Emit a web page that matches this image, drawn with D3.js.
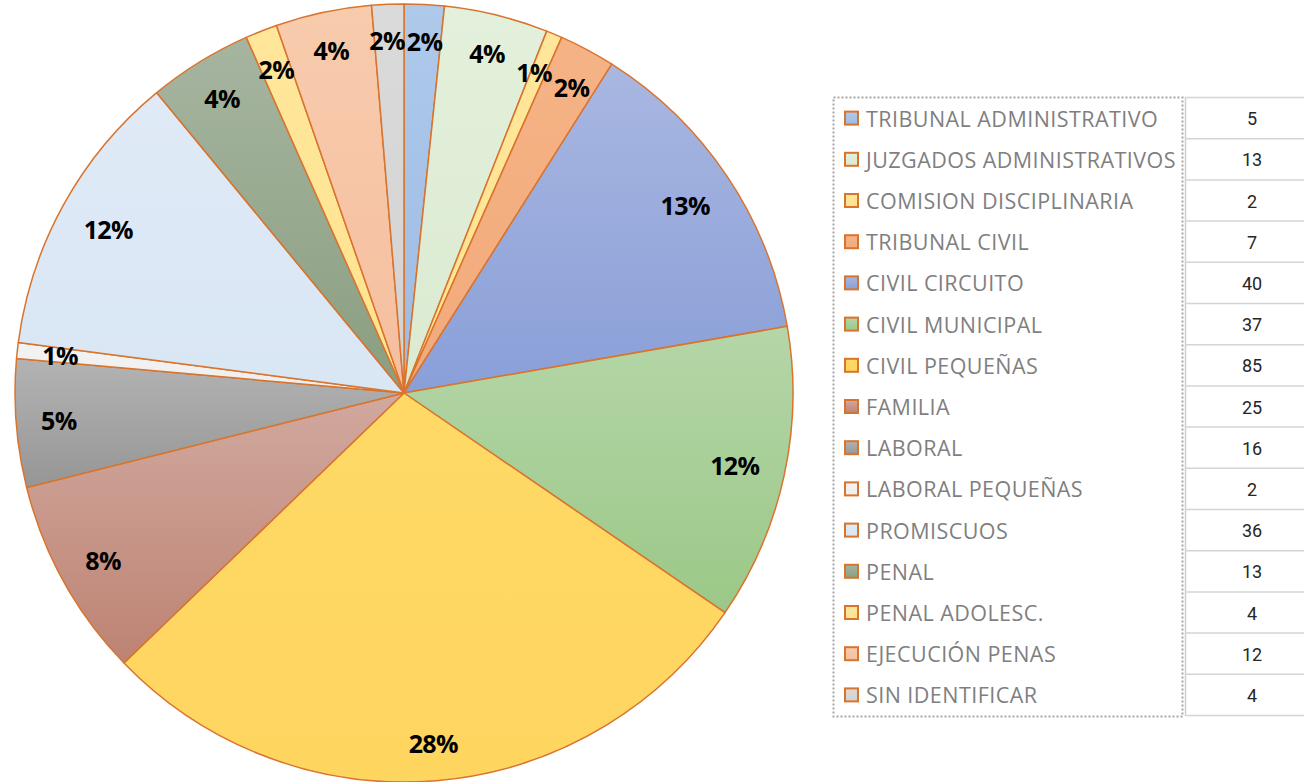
<!DOCTYPE html>
<html>
<head>
<meta charset="utf-8">
<script src="https://cdn.jsdelivr.net/npm/d3@7"></script>
<style>
  body { margin: 0; background: #fff; }
  svg { display: block; }
</style>
</head>
<body>
<div id="chart"></div>
<script>
// data
var categories = ["TRIBUNAL ADMINISTRATIVO", "JUZGADOS ADMINISTRATIVOS", "COMISION DISCIPLINARIA",
  "TRIBUNAL CIVIL", "CIVIL CIRCUITO", "CIVIL MUNICIPAL", "CIVIL PEQUEÑAS", "FAMILIA", "LABORAL",
  "LABORAL PEQUEÑAS", "PROMISCUOS", "PENAL", "PENAL ADOLESC.", "EJECUCIÓN PENAS", "SIN IDENTIFICAR"];
var values = [5, 13, 2, 7, 40, 37, 85, 25, 16, 2, 36, 13, 4, 12, 4];
var pctLabels = ["2%", "4%", "1%", "2%", "13%", "12%", "28%", "8%", "5%", "1%", "12%", "4%", "2%", "4%", "2%"];

// fill colours (top, bottom of each slice gradient)
var topColors = ["#aec9ea", "#e3f0db", "#ffe69b", "#f5b385", "#a9b7e1", "#b5d6a8", "#ffd966", "#d1a99f",
  "#b3b3b3", "#f3f3f3", "#dfeaf6", "#a6b5a0", "#ffe69b", "#f8cbad", "#dadada"];
var bottomColors = ["#9dbbe4", "#dbead1", "#fee38f", "#f2aa7b", "#899fd8", "#9bc887", "#fed55f", "#bd8373",
  "#969696", "#eeeeee", "#d9e6f4", "#8a9e80", "#fee38f", "#f5bf9f", "#d3d3d3"];

var svgWidth = 1304;
var svgHeight = 782;
var cx = 404, cy = 393, radius = 389;

var svg = d3.select("#chart")
  .append("svg")
  .attr("width", svgWidth)
  .attr("height", svgHeight);

var defs = svg.append("defs");
categories.forEach(function(c, i) {
  var g = defs.append("linearGradient")
    .attr("id", "grad" + i)
    .attr("x1", 0).attr("y1", 0).attr("x2", 0).attr("y2", 1);
  g.append("stop").attr("offset", "0%").attr("stop-color", topColors[i]);
  g.append("stop").attr("offset", "100%").attr("stop-color", bottomColors[i]);
});

var data = categories.map(function(c, i) {
  return { name: c, value: values[i], label: pctLabels[i], i: i };
});

var pie = d3.pie().value(d => d.value).sort(null);
var arc = d3.arc().innerRadius(0).outerRadius(radius);
var arcs = pie(data);

var pieGroup = svg.append("g")
  .attr("transform", `translate(${cx}, ${cy})`);

pieGroup.selectAll("path")
  .data(arcs)
  .enter()
  .append("path")
  .attr("d", arc)
  .attr("fill", d => `url(#grad${d.data.i})`)
  .attr("stroke", "#d9742e")
  .attr("stroke-width", 1.5)
  .attr("stroke-linejoin", "round");

// labels: inside end, the far corner of the label box sits a bit inside the rim
var labels = pieGroup.selectAll("text.pct")
  .data(arcs)
  .enter()
  .append("text")
  .attr("class", "pct")
  .attr("font-family", "'Open Sans', sans-serif")
  .attr("font-weight", 700)
  .attr("font-size", "25px")
  .attr("letter-spacing", "-0.6px")
  .attr("fill", "#000")
  .attr("text-anchor", "middle")
  .attr("dominant-baseline", "central")
  .text(d => d.data.label);

var boxes = [];
labels.each(function(d) {
  var w = this.getComputedTextLength();
  var h = 22;
  var a = (d.startAngle + d.endAngle) / 2;
  var s = Math.abs(Math.sin(a)), c = Math.abs(Math.cos(a));
  var D = radius - 24;
  var b = s * w / 2 + c * h / 2;
  var r = -b + Math.sqrt(b * b - (w * w / 4 + h * h / 4 - D * D));
  boxes.push({ node: this, x: r * Math.sin(a), y: -r * Math.cos(a), w: w, h: h });
});

// push neighbouring labels apart when they collide
for (var k = 0; k < 3; k++) {
  for (var i = 0; i < boxes.length; i++) {
    var p = boxes[i], q = boxes[(i + 1) % boxes.length];
    var ox = (p.w + q.w) / 2 + 2 - Math.abs(p.x - q.x);
    var oy = (p.h + q.h) / 2 - 4 - Math.abs(p.y - q.y);
    if (ox > 0 && oy > 0) {
      var dir = q.x >= p.x ? 1 : -1;
      p.x -= dir * ox / 2;
      q.x += dir * ox / 2;
    }
  }
}
boxes.forEach(function(b) {
  d3.select(b.node).attr("x", b.x).attr("y", b.y);
});

// legend box
var rowTop = 97, rowH = 41.2;
var legend = svg.append("g");

legend.append("rect")
  .attr("x", 833.5)
  .attr("y", rowTop + 0.5)
  .attr("width", 349)
  .attr("height", rowH * categories.length + 1)
  .attr("fill", "none")
  .attr("stroke", "#a6a6a6")
  .attr("stroke-width", 2)
  .attr("stroke-dasharray", "2,2");

var items = legend.selectAll("g.item")
  .data(data)
  .enter()
  .append("g")
  .attr("class", "item")
  .attr("transform", d => `translate(0, ${rowTop + rowH * d.i + rowH / 2 + 0.5})`);

items.append("rect")
  .attr("x", 845)
  .attr("y", -6.5)
  .attr("width", 13)
  .attr("height", 13)
  .attr("fill", d => `url(#grad${d.i})`)
  .attr("stroke", "#d9742e")
  .attr("stroke-width", 2);

items.append("text")
  .attr("x", 866)
  .attr("y", 0)
  .attr("dominant-baseline", "central")
  .attr("font-family", "'Open Sans', sans-serif")
  .attr("font-size", "21.5px")
  .attr("letter-spacing", "0.45px")
  .attr("fill", "#7f7f7f")
  .text(d => d.name);

// value table column
var table = svg.append("g");
table.append("line")
  .attr("x1", 1185.5).attr("x2", 1185.5)
  .attr("y1", rowTop).attr("y2", rowTop + rowH * categories.length + 1)
  .attr("stroke", "#cfcfcf")
  .attr("stroke-width", 1.5);

table.selectAll("line.row")
  .data(d3.range(categories.length + 1))
  .enter()
  .append("line")
  .attr("class", "row")
  .attr("x1", 1185).attr("x2", 1304)
  .attr("y1", i => rowTop + rowH * i + 0.5)
  .attr("y2", i => rowTop + rowH * i + 0.5)
  .attr("stroke", "#d4d4d4")
  .attr("stroke-width", 1.5);

table.selectAll("text.val")
  .data(data)
  .enter()
  .append("text")
  .attr("class", "val")
  .attr("x", 1252)
  .attr("y", d => rowTop + rowH * d.i + rowH / 2 + 1)
  .attr("text-anchor", "middle")
  .attr("dominant-baseline", "central")
  .attr("font-family", "'Liberation Sans Narrow', 'Roboto', sans-serif")
  .attr("font-size", "18px")
  .attr("fill", "#262626")
  .text(d => d.value);
</script>
</body>
</html>
